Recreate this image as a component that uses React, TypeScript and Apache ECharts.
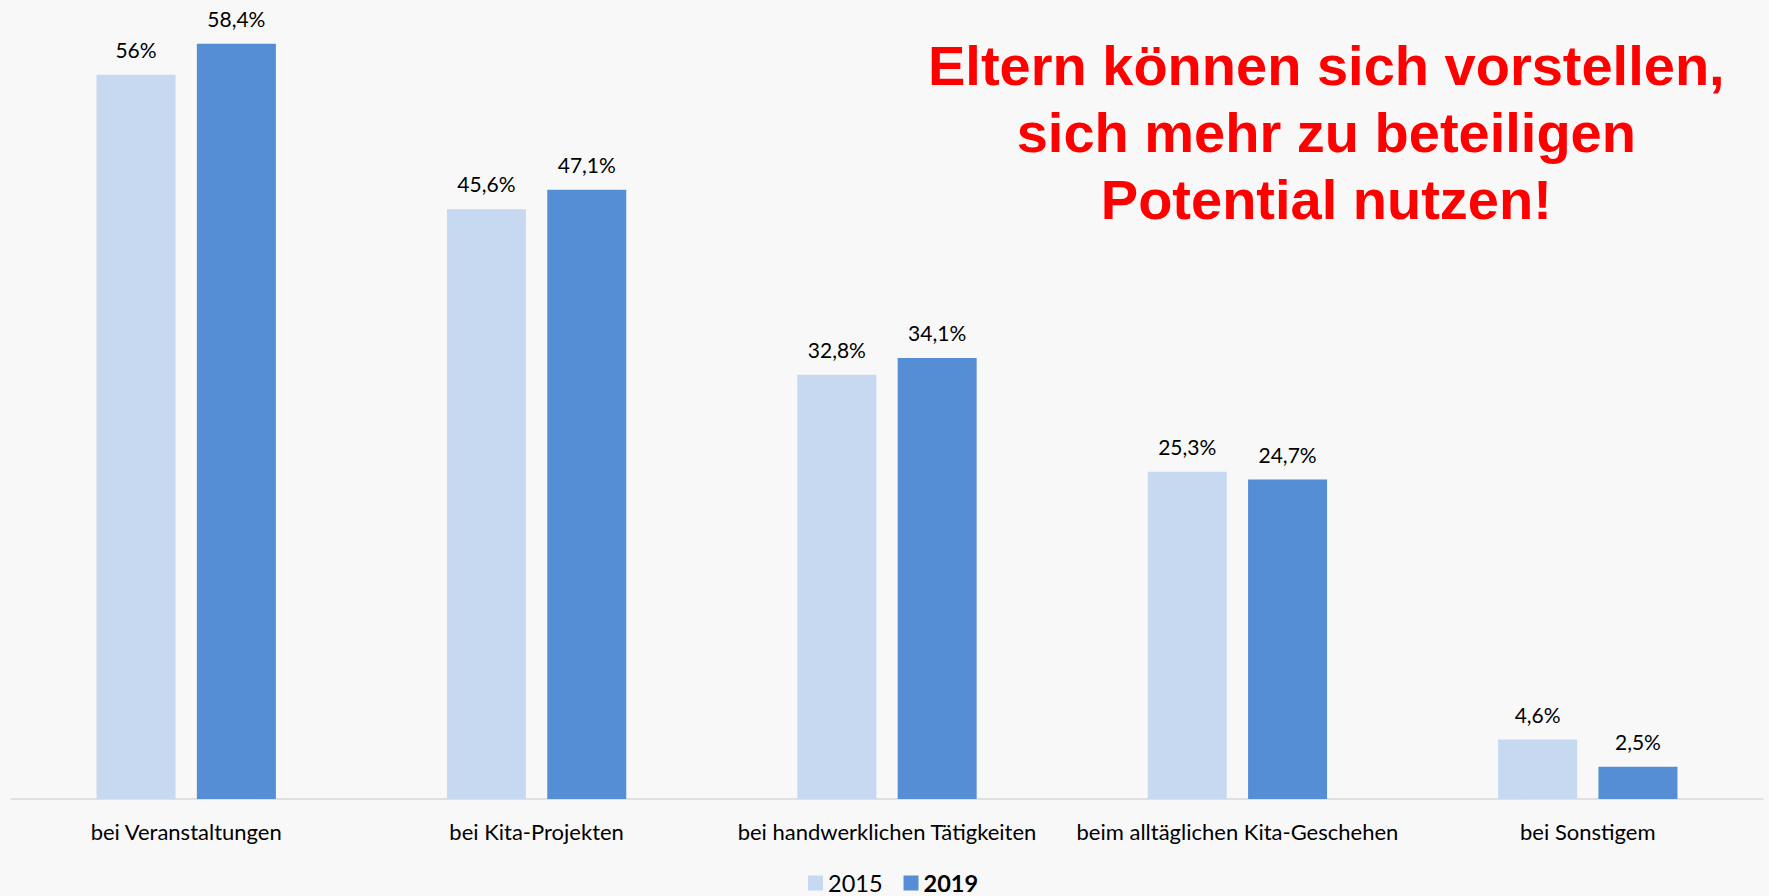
import React, { useEffect, useRef } from "react";
import * as echarts from "echarts";

const categories = [
  "bei Veranstaltungen",
  "bei Kita-Projekten",
  "bei handwerklichen Tätigkeiten",
  "beim alltäglichen Kita-Geschehen",
  "bei Sonstigem",
];
const values2015 = [56, 45.6, 32.8, 25.3, 4.6];
const values2019 = [58.4, 47.1, 34.1, 24.7, 2.5];
const seriesNames = ["2015", "2019"];
const titleLines = [
  "Eltern können sich vorstellen,",
  "sich mehr zu beteiligen",
  "Potential nutzen!",
];

const fmt = (v: number) => String(v).replace(".", ",") + "%";

export default function App() {
  const ref = useRef<HTMLDivElement>(null);
  useEffect(() => {
    if (!ref.current) return;
    const chart = echarts.init(ref.current, undefined, { renderer: "svg" });
    const labelCfg = {
      show: true,
      position: "top" as const,
      distance: 15,
      fontFamily: "Lato",
      fontSize: 21,
      color: "#000000",
      formatter: (p: any) => fmt(p.value),
    };
    chart.setOption({
      animation: false,
      backgroundColor: "#F8F8F8",
      grid: { left: 11, right: 6, top: 23, bottom: 97, containLabel: false },
      xAxis: {
        type: "category",
        data: categories,
        axisLine: { show: true, lineStyle: { color: "#D9D9D9", width: 1.5 } },
        axisTick: { show: false },
        axisLabel: {
          margin: 21,
          fontFamily: "Lato",
          fontSize: 22,
          color: "#000000",
          interval: 0,
        },
      },
      yAxis: {
        type: "value",
        min: 0,
        max: 60,
        show: false,
        splitLine: { show: false },
      },
      legend: {
        data: seriesNames,
        top: 871,
        left: 808,
        padding: 0,
        itemWidth: 15,
        itemHeight: 15,
        itemGap: 21,
        icon: "rect",
        textStyle: {
          fontFamily: "Lato",
          fontSize: 23.5,
          color: "#000000",
          rich: {
            n: { fontFamily: "Lato", fontSize: 23.5, lineHeight: 23, color: "#000000" },
            b: { fontFamily: "Lato", fontSize: 23.5, lineHeight: 23, fontWeight: "bold", color: "#000000" },
          },
        },
        formatter: (name: string) => (name === "2019" ? `{b|${name}}` : `{n|${name}}`),
      },
      series: [
        {
          name: seriesNames[0],
          type: "bar",
          data: values2015,
          barWidth: 79,
          barGap: "27%",
          itemStyle: { color: "#C7D9F1" },
          label: labelCfg,
        },
        {
          name: seriesNames[1],
          type: "bar",
          data: values2019,
          barWidth: 79,
          barGap: "27%",
          itemStyle: { color: "#558ED5" },
          label: labelCfg,
        },
      ],
      graphic: [
        {
          type: "text",
          left: 1328 - 400,
          x: 0,
          top: 32,
          style: {
            text: titleLines.join("\n"),
            x: 400,
            textAlign: "center",
            textVerticalAlign: "top",
            font: 'bold 56px "Liberation Sans", Arial, sans-serif',
            lineHeight: 67,
            fill: "#FF0000",
          },
        },
      ],
    });
    return () => chart.dispose();
  }, []);
  return (
    <div
      ref={ref}
      style={{ position: "absolute", left: 0, top: 0, width: 1769, height: 896 }}
    />
  );
}
